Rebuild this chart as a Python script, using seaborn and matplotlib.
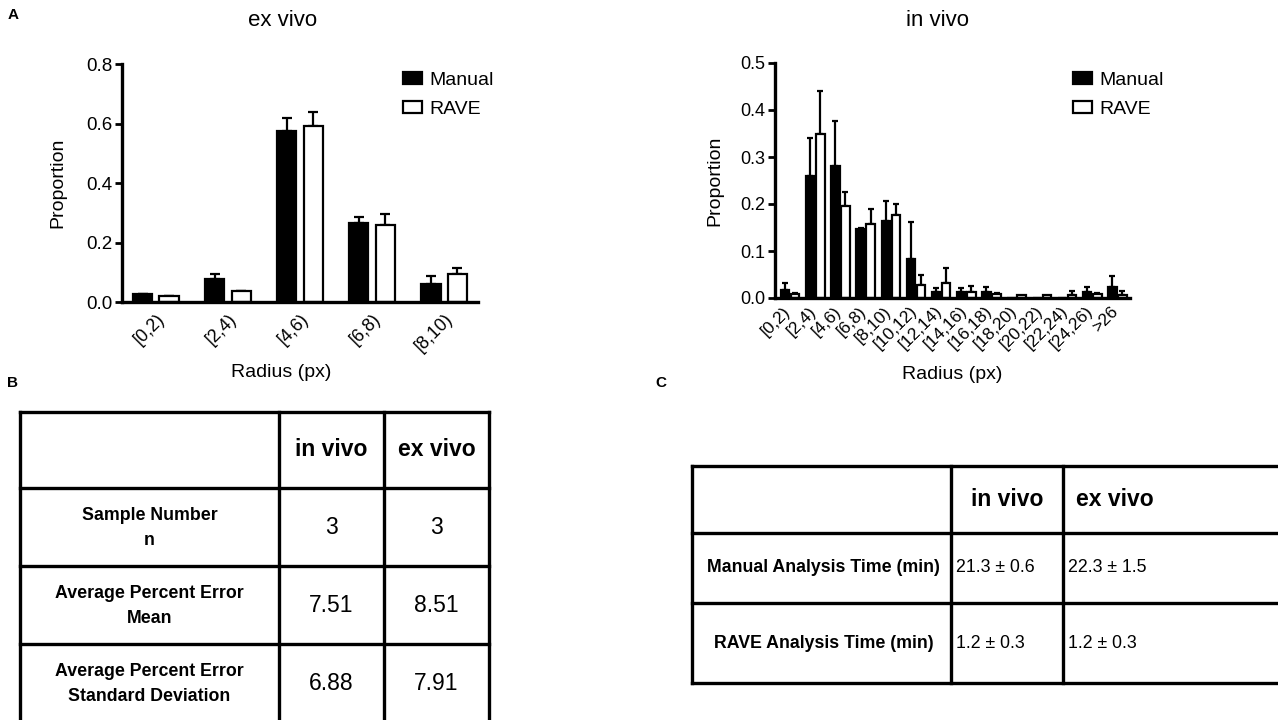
import numpy as np
import pandas as pd
import matplotlib
matplotlib.use("Agg")
import matplotlib.pyplot as plt
import matplotlib.transforms as mtransforms
from matplotlib import font_manager
import seaborn as sns
from matplotlib.patches import Patch

# ---------------- data ----------------
ex_categories = ["[0,2)", "[2,4)", "[4,6)", "[6,8)", "[8,10)"]
ex_manual = [0.026, 0.077, 0.575, 0.266, 0.062]
ex_manual_err = [0.002, 0.016, 0.042, 0.020, 0.026]
ex_rave = [0.019, 0.036, 0.593, 0.258, 0.093]
ex_rave_err = [0.002, 0.002, 0.047, 0.037, 0.021]

in_categories = ["[0,2)", "[2,4)", "[4,6)", "[6,8)", "[8,10)", "[10,12)", "[12,14)",
                 "[14,16)", "[16,18)", "[18,20)", "[20,22)", "[22,24)", "[24,26)", ">26"]
in_manual = [0.016, 0.259, 0.280, 0.147, 0.163, 0.082, 0.012,
             0.012, 0.012, 0.0, 0.0, 0.0, 0.012, 0.024]
in_manual_err = [0.016, 0.081, 0.096, 0.002, 0.043, 0.079, 0.010,
                 0.010, 0.012, 0.0, 0.0, 0.0, 0.012, 0.023]
in_rave = [0.008, 0.348, 0.195, 0.158, 0.176, 0.028, 0.032,
           0.012, 0.008, 0.006, 0.006, 0.006, 0.008, 0.007]
in_rave_err = [0.002, 0.092, 0.030, 0.032, 0.024, 0.022, 0.032,
               0.014, 0.002, 0.0, 0.0, 0.008, 0.002, 0.008]

series_names = ["Manual", "RAVE"]

table_b_cols = ["in vivo", "ex vivo"]
table_b_rows = ["Sample Number\nn", "Average Percent Error\nMean",
                "Average Percent Error\nStandard Deviation"]
table_b_invivo = ["3", "7.51", "6.88"]
table_b_exvivo = ["3", "8.51", "7.91"]

table_c_cols = ["in vivo", "ex vivo"]
table_c_rows = ["Manual Analysis Time (min)", "RAVE Analysis Time (min)"]
table_c_invivo = ["21.3 \u00b1 0.6", "1.2 \u00b1 0.3"]
table_c_exvivo = ["22.3 \u00b1 1.5", "1.2 \u00b1 0.3"]

# ---------------- style ----------------
sns.set_style("ticks")
plt.rcParams['font.family'] = ['Liberation Sans', 'DejaVu Sans']
for k in ["text.color", "axes.labelcolor", "xtick.color", "ytick.color", "axes.edgecolor"]:
    plt.rcParams[k] = "black"

_names = {f.name for f in font_manager.fontManager.ttflist}
NARROW = "Liberation Sans Narrow" in _names
if NARROW:
    TFAM = ["Liberation Sans Narrow", "Liberation Sans", "DejaVu Sans"]
    FS_HEAD, FS_VAL_B, FS_ROW, FS_VAL_C = 18.5, 18, 14.5, 14.7
else:
    TFAM = ["Liberation Sans", "DejaVu Sans"]
    FS_HEAD, FS_VAL_B, FS_ROW, FS_VAL_C = 16.5, 16.5, 12.8, 12.8

W, H = 1278, 720
fig = plt.figure(figsize=(W / 100, H / 100), dpi=100)
fig.patch.set_facecolor("white")


def rect(x0, y0, x1, y1):
    """pixel box (top-left origin) -> figure fraction rect"""
    return [x0 / W, 1 - y1 / H, (x1 - x0) / W, (y1 - y0) / H]


def bar_panel(box, cats, man, man_err, rave, rave_err, ylim, yticks, width, gap,
              capsize, tick_fs, xlim, title, title_xy, legend_xy, ylabelpad,
              xlabel_xy, xshift, xpad):
    ax = fig.add_axes(rect(*box))
    df = pd.DataFrame({
        "Radius": list(cats) * 2,
        "Proportion": list(man) + list(rave),
        "Method": [series_names[0]] * len(cats) + [series_names[1]] * len(cats),
    })
    sns.barplot(data=df, x="Radius", y="Proportion", hue="Method",
                palette={"Manual": "black", "RAVE": "white"}, saturation=1,
                edgecolor="black", linewidth=1.6, width=width, gap=gap,
                errorbar=None, legend=False, ax=ax, zorder=2)
    for cont, errs in zip(ax.containers, [man_err, rave_err]):
        xs, ys, es = [], [], []
        for p, e in zip(cont, errs):
            if e > 0:
                xs.append(p.get_x() + p.get_width() / 2)
                ys.append(p.get_height())
                es.append(e)
        ax.errorbar(xs, ys, yerr=[np.zeros(len(es)), es], fmt='none', ecolor='black',
                    elinewidth=1.6, capsize=capsize, capthick=1.6, zorder=1.5)
    ax.set_xlim(*xlim)
    ax.set_ylim(*ylim)
    ax.set_yticks(yticks)
    ax.set_yticklabels([f"{v:.1f}" for v in yticks])
    sns.despine(ax=ax)
    for s in ["left", "bottom"]:
        ax.spines[s].set_linewidth(2.4)
        ax.spines[s].set_color("black")
    ax.tick_params(axis="y", length=5, width=2, labelsize=tick_fs, pad=2, colors="black")
    ax.tick_params(axis="x", length=0, labelsize=tick_fs - 0.5, pad=xpad, colors="black")
    off = mtransforms.ScaledTranslation(xshift / 100, 0, fig.dpi_scale_trans)
    for lab in ax.get_xticklabels():
        lab.set_rotation(45)
        lab.set_ha("right")
        lab.set_rotation_mode("anchor")
        lab.set_transform(lab.get_transform() + off)
    ax.set_ylabel("Proportion", fontsize=14, labelpad=ylabelpad)
    ax.set_xlabel("")
    ax.set_facecolor("white")
    fig.text(xlabel_xy[0] / W, 1 - xlabel_xy[1] / H, "Radius (px)", fontsize=14,
             ha="center", va="center")
    fig.text(title_xy[0] / W, 1 - title_xy[1] / H, title, fontsize=16,
             ha="center", va="center")
    handles = [Patch(facecolor="black", edgecolor="black", linewidth=1.6),
               Patch(facecolor="white", edgecolor="black", linewidth=1.6)]
    ax.legend(handles, series_names, frameon=False, loc="upper left",
              bbox_to_anchor=(legend_xy[0] / W, 1 - legend_xy[1] / H),
              bbox_transform=fig.transFigure, fontsize=14, handlelength=1.0,
              handleheight=0.6, handletextpad=0.35, labelspacing=0.6,
              borderaxespad=0, borderpad=0)
    return ax


# ex vivo: axes box 122..478 x 64..302
ax1 = bar_panel((122, 64, 478, 302), ex_categories, ex_manual, ex_manual_err,
                ex_rave, ex_rave_err, (0, 0.8), [0, 0.2, 0.4, 0.6, 0.8],
                0.74, 0.27, 3.5, 13.5, (-0.47, 4.47), "ex vivo", (283, 20),
                (403, 72), 14, (281, 372), 0, 6)

# in vivo: axes box 775..1130 x 63..298
ax2 = bar_panel((775, 63, 1130, 298), in_categories, in_manual, in_manual_err,
                in_rave, in_rave_err, (0, 0.5), [0, 0.1, 0.2, 0.3, 0.4, 0.5],
                0.8, 0.15, 2.2, 13, (-0.6, 13.5), "in vivo", (937, 20),
                (1073, 72), 12, (952, 374), -7, 4)

# ---------------- tables ----------------
tax = fig.add_axes([0, 0, 1, 1], zorder=-1)
tax.set_xlim(0, W)
tax.set_ylim(H, 0)
tax.axis("off")

LW = 2.4

# Table B
bx = [20, 279, 384, 489]
by = [412, 488, 566, 644, 722]
for x in bx:
    tax.plot([x, x], [by[0], by[-1]], color="black", lw=LW, solid_capstyle="projecting")
for y in by:
    tax.plot([bx[0], bx[-1]], [y, y], color="black", lw=LW, solid_capstyle="projecting")
for j, c in enumerate(table_b_cols):
    tax.text((bx[j + 1] + bx[j + 2]) / 2, (by[0] + by[1]) / 2, c, fontsize=FS_HEAD,
             fontweight="bold", ha="center", va="center", family=TFAM)
for i, r in enumerate(table_b_rows):
    yc = (by[i + 1] + by[i + 2]) / 2 + 1
    tax.text((bx[0] + bx[1]) / 2, yc, r, fontsize=FS_ROW, fontweight="bold",
             ha="center", va="center", linespacing=1.65, family=TFAM)
    tax.text((bx[1] + bx[2]) / 2, yc, table_b_invivo[i], fontsize=FS_VAL_B,
             ha="center", va="center", family=TFAM)
    tax.text((bx[2] + bx[3]) / 2, yc, table_b_exvivo[i], fontsize=FS_VAL_B,
             ha="center", va="center", family=TFAM)

# Table C
cx = [692, 951, 1063, 1290]
cy = [466, 533, 603, 683]
for x in cx:
    tax.plot([x, x], [cy[0], cy[-1]], color="black", lw=LW, solid_capstyle="projecting")
for y in cy:
    tax.plot([cx[0], cx[-1]], [y, y], color="black", lw=LW, solid_capstyle="projecting")
for j, c in enumerate(table_c_cols):
    tax.text([1007, 1115][j], (cy[0] + cy[1]) / 2, c, fontsize=FS_HEAD,
             fontweight="bold", ha="center", va="center", family=TFAM)
for i, r in enumerate(table_c_rows):
    yc = (cy[i + 1] + cy[i + 2]) / 2
    tax.text((cx[0] + cx[1]) / 2 + 2, yc, r, fontsize=FS_ROW, fontweight="bold",
             ha="center", va="center", family=TFAM)
    tax.text(cx[1] + 5, yc, table_c_invivo[i], fontsize=FS_VAL_C, ha="left",
             va="center", family=TFAM)
    tax.text(cx[2] + 5, yc, table_c_exvivo[i], fontsize=FS_VAL_C, ha="left",
             va="center", family=TFAM)

# panel letters
for letter, (x, y) in zip("ABC", [(13, 15), (13, 383), (661, 383)]):
    fig.text(x / W, 1 - y / H, letter, fontsize=11, fontweight="bold",
             ha="center", va="center")

fig.savefig("out.png", dpi=100, facecolor="white")
